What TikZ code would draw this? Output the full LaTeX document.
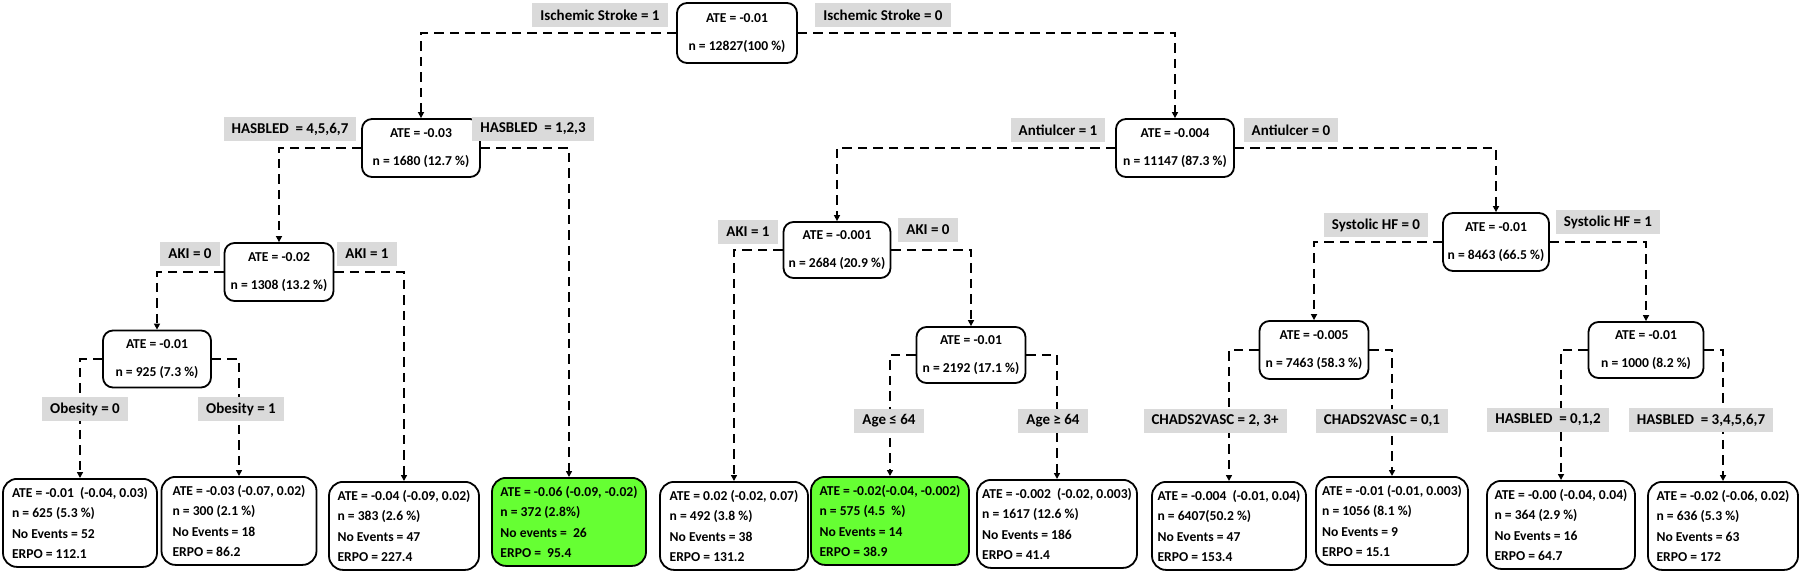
\documentclass[tikz,border=0pt]{standalone}
\usepackage{fontspec}
\setmainfont{Carlito}
\usetikzlibrary{arrows.meta}
\definecolor{lblgray}{RGB}{218,218,218}
\definecolor{leafgreen}{RGB}{102,255,51}
\begin{document}
\begin{tikzpicture}[x=1pt,y=-1pt,
  inode/.style={draw=black, line width=1.8pt, rounded corners=10pt, fill=white, align=center,
    font=\bfseries\fontsize{13.6}{28}\selectfont, inner sep=0pt},
  leaf/.style={draw=black, line width=1.8pt, rounded corners=14pt, fill=white, align=left,
    font=\bfseries\fontsize{13.6}{20.5}\selectfont, inner sep=0pt, anchor=north, minimum height=88pt},
  cond/.style={fill=lblgray, font=\bfseries\fontsize{15}{18}\selectfont, inner xsep=8pt,
    inner ysep=0pt, minimum height=24pt},
  edge/.style={line width=2.1pt, dash pattern=on 9.5pt off 6pt, -{Triangle[length=6pt,width=6pt]}},
]
\useasboundingbox (0,0) rectangle (1800,572);

% internal nodes
\node[inode, minimum width=120pt, minimum height=60pt] (R) at (737,33) {ATE = -0.01\\n = 12827(100 \%)};
\node[inode, minimum width=118pt, minimum height=58pt] (H) at (421,148) {ATE = -0.03\\n = 1680 (12.7 \%)};
\node[inode, minimum width=118pt, minimum height=58pt] (A) at (1175,148) {ATE = -0.004\\n = 11147 (87.3 \%)};
\node[inode, minimum width=109pt, minimum height=58pt] (K1) at (279,272) {ATE = -0.02\\n = 1308 (13.2 \%)};
\node[inode, minimum width=107pt, minimum height=56pt] (K2) at (837,250) {ATE = -0.001\\n = 2684 (20.9 \%)};
\node[inode, minimum width=106pt, minimum height=58pt] (S) at (1496,242) {ATE = -0.01\\n = 8463 (66.5 \%)};
\node[inode, minimum width=108pt, minimum height=57pt] (O) at (157,359) {ATE = -0.01\\n = 925 (7.3 \%)};
\node[inode, minimum width=109pt, minimum height=56pt] (G) at (971,355) {ATE = -0.01\\n = 2192 (17.1 \%)};
\node[inode, minimum width=109pt, minimum height=58pt] (C) at (1314,350) {ATE = -0.005\\n = 7463 (58.3 \%)};
\node[inode, minimum width=115pt, minimum height=56pt] (B) at (1646,350) {ATE = -0.01\\n = 1000 (8.2 \%)};

% leaves
\node[leaf, minimum width=154pt] (L1) at (80,478) {ATE = -0.01\ \ (-0.04, 0.03)\\n = 625 (5.3 \%)\\No Events = 52\\ERPO = 112.1};
\node[leaf, minimum width=155pt] (L2) at (239,476) {ATE = -0.03 (-0.07, 0.02)\\n = 300 (2.1 \%)\\No Events = 18\\ERPO = 86.2};
\node[leaf, minimum width=150pt] (L3) at (404,481) {ATE = -0.04 (-0.09, 0.02)\\n = 383 (2.6 \%)\\No Events = 47\\ERPO = 227.4};
\node[leaf, fill=leafgreen, minimum width=154pt] (L4) at (569,477) {ATE = -0.06 (-0.09, -0.02)\\n = 372 (2.8\%)\\No events =\ \ 26\\ERPO =\ \ 95.4};
\node[leaf, minimum width=148pt] (L5) at (734,481) {ATE = 0.02 (-0.02, 0.07)\\n = 492 (3.8 \%)\\No Events = 38\\ERPO = 131.2};
\node[leaf, fill=leafgreen, minimum width=158pt] (L6) at (890,476) {ATE = -0.02(-0.04, -0.002)\\n = 575 (4.5\ \ \%)\\No Events = 14\\ERPO = 38.9};
\node[leaf, minimum width=160pt] (L7) at (1057,479) {ATE = -0.002\ \ (-0.02, 0.003)\\n = 1617 (12.6 \%)\\No Events = 186\\ERPO = 41.4};
\node[leaf, minimum width=154pt] (L8) at (1229,481) {ATE = -0.004\ \ (-0.01, 0.04)\\n = 6407(50.2 \%)\\No Events = 47\\ERPO = 153.4};
\node[leaf, minimum width=152pt] (L9) at (1392,476) {ATE = -0.01 (-0.01, 0.003)\\n = 1056 (8.1 \%)\\No Events = 9\\ERPO = 15.1};
\node[leaf, minimum width=148pt] (L10) at (1561,480) {ATE = -0.00 (-0.04, 0.04)\\n = 364 (2.9 \%)\\No Events = 16\\ERPO = 64.7};
\node[leaf, minimum width=150pt] (L11) at (1723,481) {ATE = -0.02 (-0.06, 0.02)\\n = 636 (5.3 \%)\\No Events = 63\\ERPO = 172};

% connectors
\draw[edge] (R.west) -| (H.north);
\draw[edge] (R.east) -| (A.north);
\draw[edge] (H.west) -| (K1.north);
\draw[edge] (H.east) -| (L4.north);
\draw[edge] (A.west) -| (K2.north);
\draw[edge] (A.east) -| (S.north);
\draw[edge] (K1.west) -| (O.north);
\draw[edge] (K1.east) -| (L3.north);
\draw[edge] (K2.west) -| (L5.north);
\draw[edge] (K2.east) -| (G.north);
\draw[edge] (S.west) -| (C.north);
\draw[edge] (S.east) -| (B.north);
\draw[edge] (O.west) -| (L1.north);
\draw[edge] (O.east) -| (L2.north);
\draw[edge] (G.west) -| (L6.north);
\draw[edge] (G.east) -| (L7.north);
\draw[edge] (C.west) -| (L8.north);
\draw[edge] (C.east) -| (L9.north);
\draw[edge] (B.west) -| (L10.north);
\draw[edge] (B.east) -| (L11.north);

% condition labels
\node[cond] (c1) at (600,15) {Ischemic Stroke = 1};
\node[cond] (c2) at (883,15) {Ischemic Stroke = 0};
\node[cond] (c3) at (290,129) {HASBLED\ \ = 4,5,6,7};
\node[cond] (c4) at (533,129) {HASBLED\ \ = 1,2,3};
\node[cond] (c5) at (1058,130) {Antiulcer = 1};
\node[cond] (c6) at (1291,130) {Antiulcer = 0};
\node[cond] (c7) at (190,254) {AKI = 0};
\node[cond] (c8) at (367,254) {AKI = 1};
\node[cond] (c9) at (748,232) {AKI = 1};
\node[cond] (c10) at (928,230) {AKI = 0};
\node[cond] (c11) at (1376,225) {Systolic HF = 0};
\node[cond] (c12) at (1608,222) {Systolic HF = 1};
\node[cond] (c13) at (85,409) {Obesity = 0};
\node[cond] (c14) at (241,409) {Obesity = 1};
\node[cond] (c15) at (889,421) {Age ≤ 64};
\node[cond] (c16) at (1053,421) {Age ≥ 64};
\node[cond] (c17) at (1215,421) {CHADS2VASC = 2, 3+};
\node[cond] (c18) at (1382,421) {CHADS2VASC = 0,1};
\node[cond] (c19) at (1548,420) {HASBLED\ \ = 0,1,2};
\node[cond] (c20) at (1701,420) {HASBLED\ \ = 3,4,5,6,7};
\end{tikzpicture}
\end{document}
